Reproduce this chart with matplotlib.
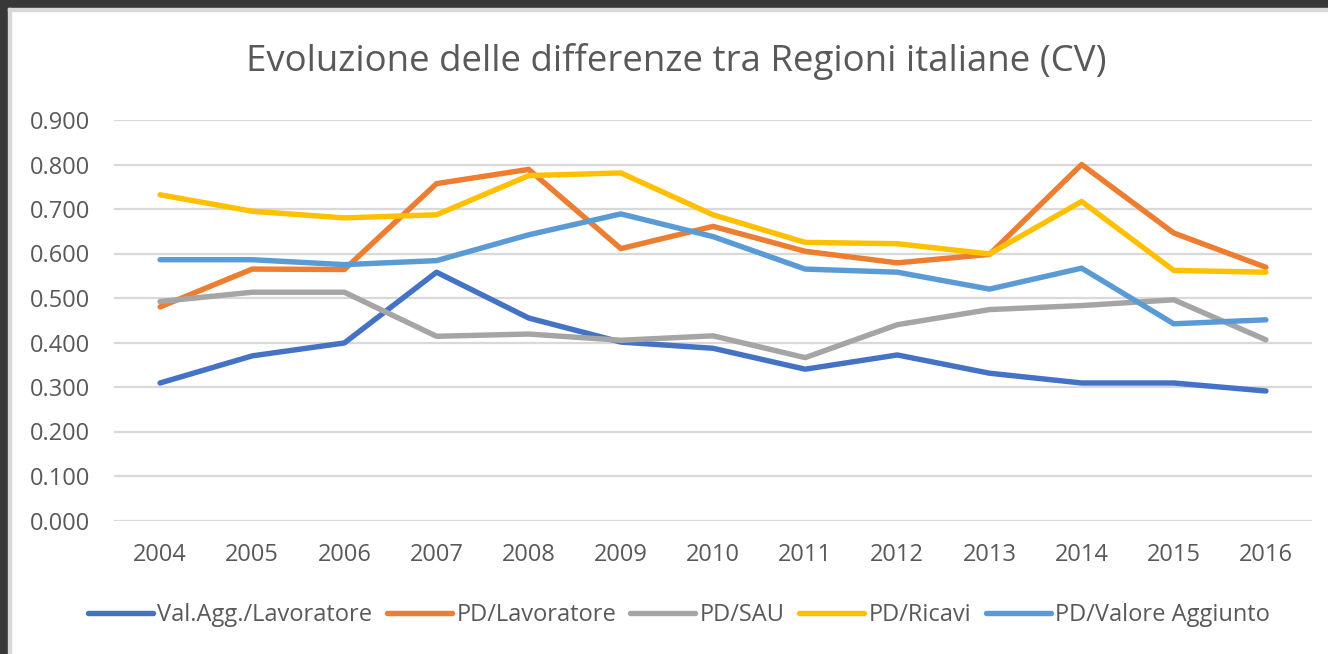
import matplotlib
matplotlib.use("Agg")
import matplotlib.pyplot as plt
from matplotlib.patches import Rectangle

years = [str(y) for y in range(2004, 2017)]
val_agg_lav = [0.309, 0.370, 0.399, 0.558, 0.455, 0.401, 0.387, 0.340, 0.372, 0.331, 0.309, 0.309, 0.291]
pd_lav = [0.480, 0.565, 0.564, 0.757, 0.789, 0.611, 0.661, 0.605, 0.579, 0.598, 0.800, 0.646, 0.569]
pd_sau = [0.492, 0.513, 0.513, 0.414, 0.419, 0.405, 0.415, 0.366, 0.440, 0.474, 0.483, 0.496, 0.406]
pd_ricavi = [0.732, 0.695, 0.680, 0.687, 0.775, 0.781, 0.687, 0.625, 0.622, 0.599, 0.717, 0.562, 0.558]
pd_va = [0.586, 0.586, 0.575, 0.584, 0.642, 0.689, 0.638, 0.565, 0.558, 0.520, 0.567, 0.442, 0.451]

series = [
    ("Val.Agg./Lavoratore", val_agg_lav, "#4472C4"),
    ("PD/Lavoratore", pd_lav, "#ED7D31"),
    ("PD/SAU", pd_sau, "#A5A5A5"),
    ("PD/Ricavi", pd_ricavi, "#FFC000"),
    ("PD/Valore Aggiunto", pd_va, "#5B9BD5"),
]
yticks = [0.0, 0.1, 0.2, 0.3, 0.4, 0.5, 0.6, 0.7, 0.8, 0.9]

plt.rcParams['font.family'] = ['Open Sans', 'DejaVu Sans']
W, H = 1328, 654
fig = plt.figure(figsize=(W / 100, H / 100), dpi=100)
fig.patch.set_facecolor("white")

# screenshot frame
fig.patches.append(Rectangle((0, 1 - 8 / H), 1, 8 / H, transform=fig.transFigure, color="#383838", zorder=0))
fig.patches.append(Rectangle((0, 0), 8 / W, 1, transform=fig.transFigure, color="#383838", zorder=0))
fig.patches.append(Rectangle((8 / W, 0), 3 / W, 1 - 8 / H, transform=fig.transFigure, color="#D9D9D9", zorder=0))
fig.patches.append(Rectangle((8 / W, 1 - 11 / H), 1, 3 / H, transform=fig.transFigure, color="#D9D9D9", zorder=0))

ax = fig.add_axes([114 / W, 133.5 / H, (1312 - 114) / W, (520.5 - 120) / H])
x = list(range(len(years)))
for name, vals, col in series:
    ax.plot(x, vals, color=col, lw=3.9, solid_capstyle="round", solid_joinstyle="round", label=name, zorder=3)

ax.set_xlim(-0.5, len(years) - 0.5)
ax.set_ylim(0, 0.9)
ax.set_yticks(yticks)
ax.set_yticklabels([f"{v:.3f}" for v in yticks])
ax.set_xticks(x)
ax.set_xticklabels(years)
ax.grid(axis="y", color="#D9D9D9", lw=1.6, zorder=0)
ax.set_axisbelow(True)
for s in ax.spines.values():
    s.set_visible(False)
ax.tick_params(axis="both", length=0, labelsize=17, labelcolor="#595959")
ax.tick_params(axis="y", pad=17)
ax.tick_params(axis="x", pad=16)

fig.text(676 / W, 1 - 62 / H, "Evoluzione delle differenze tra Regioni italiane (CV)",
         ha="center", va="center", fontsize=26.4, color="#595959")

fig.legend(loc="center", bbox_to_anchor=(679 / W, 1 - 615 / H), ncol=5, frameon=False,
           fontsize=17, labelcolor="#595959", handlelength=2.75, handletextpad=0.2,
           columnspacing=0.6)

fig.savefig("out.png", dpi=100, facecolor="white")
